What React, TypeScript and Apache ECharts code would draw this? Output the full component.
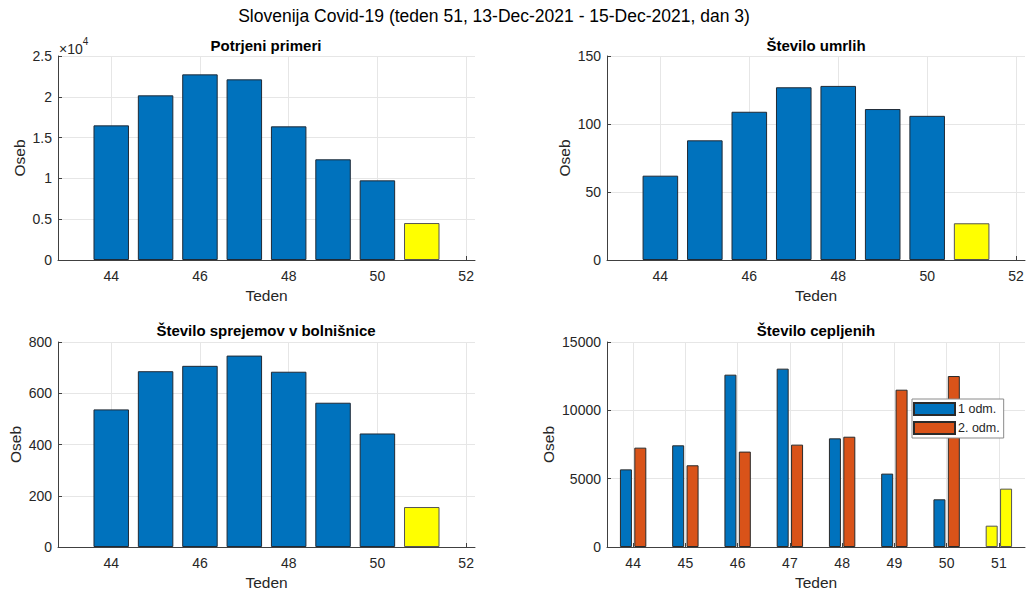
import React, { useEffect, useRef } from "react";
import * as echarts from "echarts";

const weeks = [44, 45, 46, 47, 48, 49, 50, 51];
const confirmed = [16500, 20180, 22750, 22140, 16380, 12340, 9760, 4530];
const deaths = [62, 88, 109, 127, 128, 111, 106, 27];
const admissions = [537, 686, 707, 747, 684, 563, 443, 156];
const dose1 = [5680, 7440, 12610, 13050, 7950, 5370, 3490, 1560];
const dose2 = [7270, 5980, 6980, 7490, 8070, 11510, 12510, 4270];
const evenTicks = [44, 46, 48, 50, 52];
const allTicks = [44, 45, 46, 47, 48, 49, 50, 51];
const mainTitle = "Slovenija Covid-19 (teden 51, 13-Dec-2021 - 15-Dec-2021, dan 3)";
const panelTitles = ["Potrjeni primeri", "Število umrlih", "Število sprejemov v bolnišnice", "Število cepljenih"];
const legendNames = ["1 odm.", "2. odm."];

const FONT = "Liberation Sans, Arial, Helvetica, sans-serif";
const AX = "#404040";
const TXT = "#262626";
const GRIDC = "#e6e6e6";
const BLUE = "#0072BD";
const ORANGE = "#D95319";
const YELLOW = "#FFFF00";

const grids = [
  { left: 58, top: 56, width: 417, height: 204 },
  { left: 607, top: 56, width: 418, height: 204 },
  { left: 58, top: 342, width: 417, height: 205 },
  { left: 607, top: 342, width: 418, height: 205 },
];

export default function App() {
  const ref = useRef<HTMLDivElement>(null);
  useEffect(() => {
    if (!ref.current) return;
    const chart = echarts.init(ref.current, null, { renderer: "svg" });
    const lastIdx = weeks.length - 1;

    const mkX = (i: number, min: number, max: number, ticks: number[]) => ({
      type: "value",
      gridIndex: i,
      min,
      max,
      name: "Teden",
      nameLocation: "middle",
      nameGap: 27,
      nameTextStyle: { fontFamily: FONT, fontSize: 15.5, color: TXT },
      axisLine: { show: true, onZero: false, lineStyle: { color: AX, width: 1 } },
      axisTick: { show: true, inside: true, length: 4, customValues: ticks, lineStyle: { color: AX } },
      axisLabel: { customValues: ticks, margin: 9, fontFamily: FONT, fontSize: 14, color: TXT },
      splitLine: { show: true, lineStyle: { color: GRIDC, width: 1 } },
    });
    const mkY = (i: number, max: number, interval: number, gap: number, fmt: (v: number) => string) => ({
      type: "value",
      gridIndex: i,
      min: 0,
      max,
      interval,
      name: "Oseb",
      nameLocation: "middle",
      nameGap: gap,
      nameTextStyle: { fontFamily: FONT, fontSize: 15.5, color: TXT },
      axisLine: { show: true, lineStyle: { color: AX, width: 1 } },
      axisTick: { show: true, inside: true, length: 4, lineStyle: { color: AX } },
      axisLabel: { margin: 6, fontFamily: FONT, fontSize: 14, color: TXT, formatter: fmt },
      splitLine: { show: true, lineStyle: { color: GRIDC, width: 1 } },
    });
    const plain = (v: number) => String(v);

    const bw = (g: { width: number }, span: number) => (0.8 * g.width) / span;
    const single = (vals: number[], i: number) => ({
      type: "bar",
      xAxisIndex: i,
      yAxisIndex: i,
      barWidth: bw(grids[i], 9.4),
      data: vals.map((v, k) => ({
        value: [weeks[k], v],
        itemStyle: k === lastIdx ? { color: YELLOW, borderColor: "#555" } : undefined,
      })),
      itemStyle: { color: BLUE, borderColor: "#1f2a36", borderWidth: 1 },
      silent: true,
    });
    const dose = (vals: number[], name: string, color: string) => ({
      type: "bar",
      name,
      xAxisIndex: 3,
      yAxisIndex: 3,
      barWidth: 12,
      barGap: "20%",
      data: vals.map((v, k) => ({
        value: [weeks[k], v],
        itemStyle: k === lastIdx ? { color: YELLOW, borderColor: "#555" } : undefined,
      })),
      itemStyle: { color, borderColor: "#2a2a2a", borderWidth: 1 },
      silent: true,
    });

    const titleCenters = [
      [266, 45],
      [816, 45],
      [266, 330],
      [816, 330],
    ];

    chart.setOption({
      animation: false,
      grid: grids.map((g) => ({ ...g, containLabel: false })),
      xAxis: [
        mkX(0, 42.8, 52.2, evenTicks),
        mkX(1, 42.8, 52.2, evenTicks),
        mkX(2, 42.8, 52.2, evenTicks),
        mkX(3, 43.5, 51.5, allTicks),
      ],
      yAxis: [
        mkY(0, 25000, 5000, 31, (v: number) => String(v / 10000)),
        mkY(1, 150, 50, 35),
        mkY(2, 800, 200, 35),
        mkY(3, 15000, 5000, 51, plain),
      ].map((y, i) => (i === 1 || i === 2 ? { ...y, axisLabel: { ...y.axisLabel, formatter: plain } } : y)),
      legend: {
        show: true,
        data: legendNames,
        orient: "vertical",
        left: 912,
        top: 399,
        itemWidth: 41,
        itemHeight: 12,
        itemGap: 5,
        padding: [3, 4, 3, 1],
        backgroundColor: "#ffffff",
        borderColor: "#8a8a8a",
        borderWidth: 1,
        borderRadius: 0,
        icon: "rect",
        textStyle: { fontFamily: FONT, fontSize: 12.5, color: TXT, padding: [0, 0, 0, -2] },
        selectedMode: false,
      },
      series: [
        single(confirmed, 0),
        single(deaths, 1),
        single(admissions, 2),
        dose(dose1, legendNames[0], BLUE),
        dose(dose2, legendNames[1], ORANGE),
      ],
      graphic: [
        {
          type: "text",
          x: 494,
          y: 16,
          style: {
            text: mainTitle,
            fontFamily: FONT,
            fontSize: 17.5,
            fill: "#000",
            textAlign: "center",
            textVerticalAlign: "middle",
          },
        },
        ...panelTitles.map((t, i) => ({
          type: "text",
          x: titleCenters[i][0],
          y: titleCenters[i][1],
          style: {
            text: t,
            fontFamily: FONT,
            fontSize: 15,
            fontWeight: "bold",
            fill: "#000",
            textAlign: "center",
            textVerticalAlign: "middle",
          },
        })),
        {
          type: "text",
          x: 59,
          y: 46,
          style: {
            text: "{a|×10}{b|4}",
            rich: {
              a: { fontFamily: FONT, fontSize: 14, fill: TXT, verticalAlign: "bottom" },
              b: { fontFamily: FONT, fontSize: 10, fill: TXT, verticalAlign: "top", padding: [0, 0, 9, 0] },
            },
            textVerticalAlign: "middle",
          },
        },
      ],
    });
    return () => chart.dispose();
  }, []);
  return (
    <div
      ref={ref}
      style={{ position: "fixed", left: 0, top: 0, width: 1028, height: 592, background: "#fff" }}
    />
  );
}
